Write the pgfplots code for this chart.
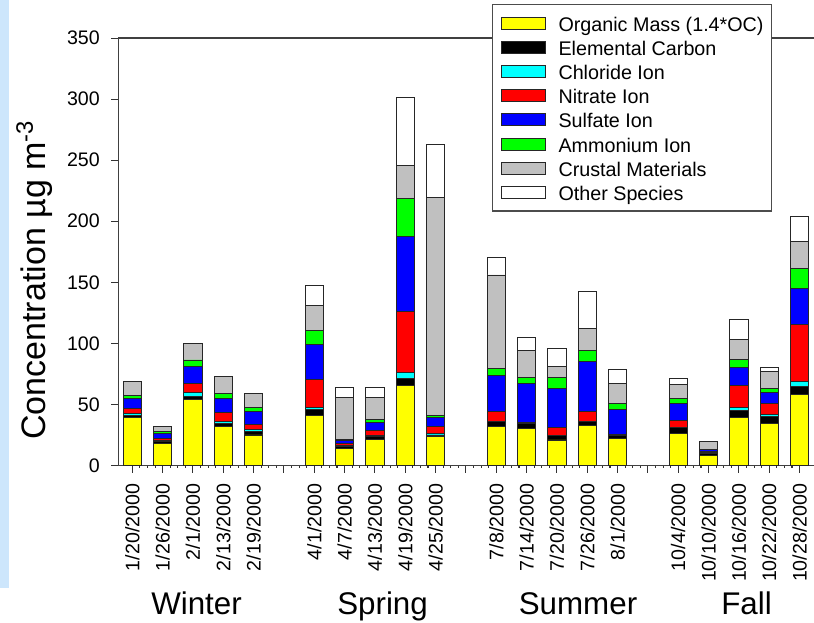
\documentclass[border=0pt]{standalone}
\usepackage{fontspec}
\setmainfont{Liberation Sans}
\usepackage{pgfplots}
\pgfplotsset{compat=1.18}
\usepackage{pgfplotstable}

\definecolor{stripblue}{RGB}{205,230,252}
\definecolor{cOM}{RGB}{255,255,0}
\definecolor{cEC}{RGB}{0,0,0}
\definecolor{cCl}{RGB}{0,255,255}
\definecolor{cNO}{RGB}{255,0,0}
\definecolor{cSO}{RGB}{0,0,255}
\definecolor{cNH}{RGB}{0,255,0}
\definecolor{cCM}{RGB}{192,192,192}
\definecolor{cOT}{RGB}{255,255,255}

% PM composition by sampling day (ug/m3)
\pgfplotstableread{
idx  om    ec   cl   no3   so4   nh4   crust  other
0    39.0  1.9  1.9  3.8   8.2   2.8   11.2   0
1    18.2  1.4  0.8  1.4   4.3   1.4   4.7    0
2    53.8  2.7  3.0  7.4   14.0  5.5   13.9   0
3    31.6  2.7  1.4  7.4   12.1  4.1   13.4   0
4    25.0  2.8  1.6  4.1   10.4  3.9   11.5   0
6    40.7  4.9  2.2  22.7  28.4  11.3  20.8   16.4
7    13.8  2.0  0.8  1.1   3.0   0.8   34.5   7.6
8    21.2  2.2  0.8  4.7   6.3   2.2   18.0   8.5
9    65.8  5.2  5.5  49.5  61.6  30.9  27.1   55.9
10   23.6  1.4  1.1  5.5   7.6   2.0   178.2  43.1
12   31.6  4.1  0.2  8.2   29.3  6.3   76.3   14.0
13   30.5  3.6  0.2  1.3   31.2  5.5   21.6   11.2
14   20.9  3.3  0.2  6.5   32.4  9.0   9.0    14.2
15   33.0  3.0  0.2  8.2   40.5  9.3   18.3   30.1
16   22.0  2.2  0.2  0.8   20.8  4.7   16.4   11.7
18   26.4  4.4  0.3  6.0   13.7  3.8   11.5   5.0
19   8.6   1.4  0.8  0.5   1.5   0.7   6.4    0
20   39.2  5.5  2.5  18.6  14.8  6.0   16.4   16.7
21   34.3  5.5  2.2  8.7   8.8   3.6   14.2   3.3
22   58.4  6.0  4.2  47.0  29.6  16.1  22.4   20.3
}\speciation

\pgfplotsset{
  legsq/.style={legend image code/.code={\draw[##1] (0pt,-4.5pt) rectangle (33pt,4.5pt);}},
  seg/.style={fill=#1, draw=black!85, line width=0.7pt, legsq},
}

\begin{document}
\begin{tikzpicture}
\fill[stripblue] (0pt,0pt) rectangle (6.75pt,-441pt);
\begin{axis}[
  at={(88.875pt,-349.125pt)}, anchor=south west,
  scale only axis, width=523.3pt, height=320.6pt,
  xmin=-0.455, xmax=22.55, ymin=0, ymax=350,
  ybar stacked, bar width=0.6,
  axis line style={draw=black!75, line width=1.1pt},
  tick pos=left, tick align=outside,
  major tick length=5.25pt, minor tick length=1.6pt,
  tick style={draw=black!80, line width=0.8pt},
  xtick={0,...,22}, minor x tick num=3,
  xticklabels={1/20/2000,1/26/2000,2/1/2000,2/13/2000,2/19/2000,{},
    4/1/2000,4/7/2000,4/13/2000,4/19/2000,4/25/2000,{},
    7/8/2000,7/14/2000,7/20/2000,7/26/2000,8/1/2000,{},
    10/4/2000,10/10/2000,10/16/2000,10/22/2000,10/28/2000},
  ytick={0,50,...,350},
  /pgf/number format/assume math mode=true,
  ticklabel style={font=\fontsize{14.7}{16}\selectfont},
  xticklabel style={rotate=90, anchor=east, inner sep=0pt, xshift=-8.3pt},
  yticklabel style={inner sep=0pt, xshift=-8.6pt},
  legend cell align=left,
  legend style={at={(0.5353,1.0795)}, anchor=north west,
    draw=black!70, line width=0.9pt, fill=white,
    font=\fontsize{14.8}{17}\selectfont,
    inner xsep=6pt, inner ysep=5pt, row sep=0pt,
    /tikz/every odd column/.append style={column sep=9.75pt},
    nodes={inner sep=0pt, text height=15.1pt, text depth=3pt}},
]
\addplot[seg=cOM] table[x=idx, y=om]{\speciation};
\addplot[seg=cEC] table[x=idx, y=ec]{\speciation};
\addplot[seg=cCl] table[x=idx, y=cl]{\speciation};
\addplot[seg=cNO] table[x=idx, y=no3]{\speciation};
\addplot[seg=cSO] table[x=idx, y=so4]{\speciation};
\addplot[seg=cNH] table[x=idx, y=nh4]{\speciation};
\addplot[seg=cCM] table[x=idx, y=crust]{\speciation};
\addplot[seg=cOT] table[x=idx, y=other]{\speciation};
\legend{Organic Mass (1.4*OC), Elemental Carbon, Chloride Ion, Nitrate Ion,
  Sulfate Ion, Ammonium Ion, Crustal Materials, Other Species}
\end{axis}
\node[rotate=90, anchor=base, font=\fontsize{25.5}{28}\selectfont]
  at (33.75pt,-210pt) {Concentration µg m\textsuperscript{-3}};
\begin{scope}[every node/.style={anchor=base, font=\fontsize{23.5}{26}\selectfont}]
\node at (147.4pt,-460.5pt) {Winter};
\node at (286.9pt,-460.5pt) {Spring};
\node at (433.5pt,-460.5pt) {Summer};
\node at (559.9pt,-460.5pt) {Fall};
\end{scope}
\pgfresetboundingbox
\useasboundingbox (0pt,0pt) rectangle (610.5pt,-466.5pt);
\end{tikzpicture}
\end{document}
